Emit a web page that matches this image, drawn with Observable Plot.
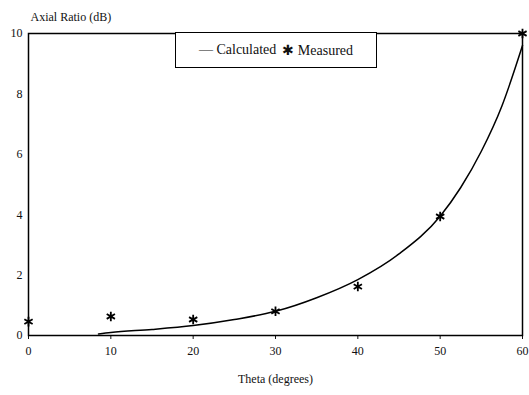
<!DOCTYPE html>
<html>
<head>
<meta charset="utf-8">
<script src="https://cdn.jsdelivr.net/npm/d3@7"></script>
<script src="https://cdn.jsdelivr.net/npm/@observablehq/plot@0.6"></script>
<style>
  body { margin: 0; background: #fff; }
  #wrap { position: relative; width: 529px; height: 395px; font-family: "Liberation Serif", serif; }
  #legend { position: absolute; left: 175px; top: 32px; width: 200px; height: 34px; border: 1.5px solid #000; background: #fff;
    font-size: 14px; display: flex; align-items: center; justify-content: center; gap: 6px; color: #111; }
</style>
</head>
<body>
<div id="wrap"></div>
<script>
const measuredTheta = [0, 10, 20, 30, 40, 50, 60];
const measuredAR = [0.46, 0.63, 0.53, 0.8, 1.62, 3.94, 10];
const calcTheta = [8.5, 10, 15, 20, 25, 30, 35, 40, 45, 50, 52.5, 55, 57.5, 60];
const calcAR = [0.05, 0.1, 0.2, 0.33, 0.53, 0.8, 1.25, 1.85, 2.7, 3.95, 4.9, 6.1, 7.6, 9.6];
const xTicks = [0, 10, 20, 30, 40, 50, 60];
const yTicks = [0, 2, 4, 6, 8, 10];

const measured = measuredTheta.map((t, i) => ({theta: t, ar: measuredAR[i]}));
const calc = calcTheta.map((t, i) => ({theta: t, ar: calcAR[i]}));

const chart = Plot.plot({
  width: 529,
  height: 395,
  marginLeft: 28,
  marginRight: 7,
  marginTop: 33,
  marginBottom: 60,
  style: {fontFamily: "Liberation Serif, serif", fontSize: "12px", background: "#fff", color: "#111"},
  x: {domain: [0, 60], ticks: xTicks, tickSize: 4, tickPadding: 7, label: null},
  y: {domain: [0, 10], ticks: yTicks, tickSize: 0, tickPadding: 6, label: null},
  marks: [
    Plot.frame({stroke: "#000", strokeWidth: 1.5}),
    Plot.line(calc, {x: "theta", y: "ar", curve: "monotone-x", stroke: "#000", strokeWidth: 1.5}),
    Plot.dot(measured, {x: "theta", y: "ar", symbol: "asterisk", r: 4.5, stroke: "#000", strokeWidth: 1.8}),
    Plot.text(["Axial Ratio (dB)"], {frameAnchor: "top-left", dx: 2, dy: -21, textAnchor: "start", fontSize: 12}),
    Plot.text(["Theta (degrees)"], {frameAnchor: "bottom", dy: 47, fontSize: 12})
  ]
});
const wrap = document.getElementById("wrap");
wrap.appendChild(chart);
const legend = document.createElement("div");
legend.id = "legend";
legend.innerHTML = '<span>\u2014 Calculated</span><span>\u2731 Measured</span>';
wrap.appendChild(legend);
</script>
</body>
</html>
